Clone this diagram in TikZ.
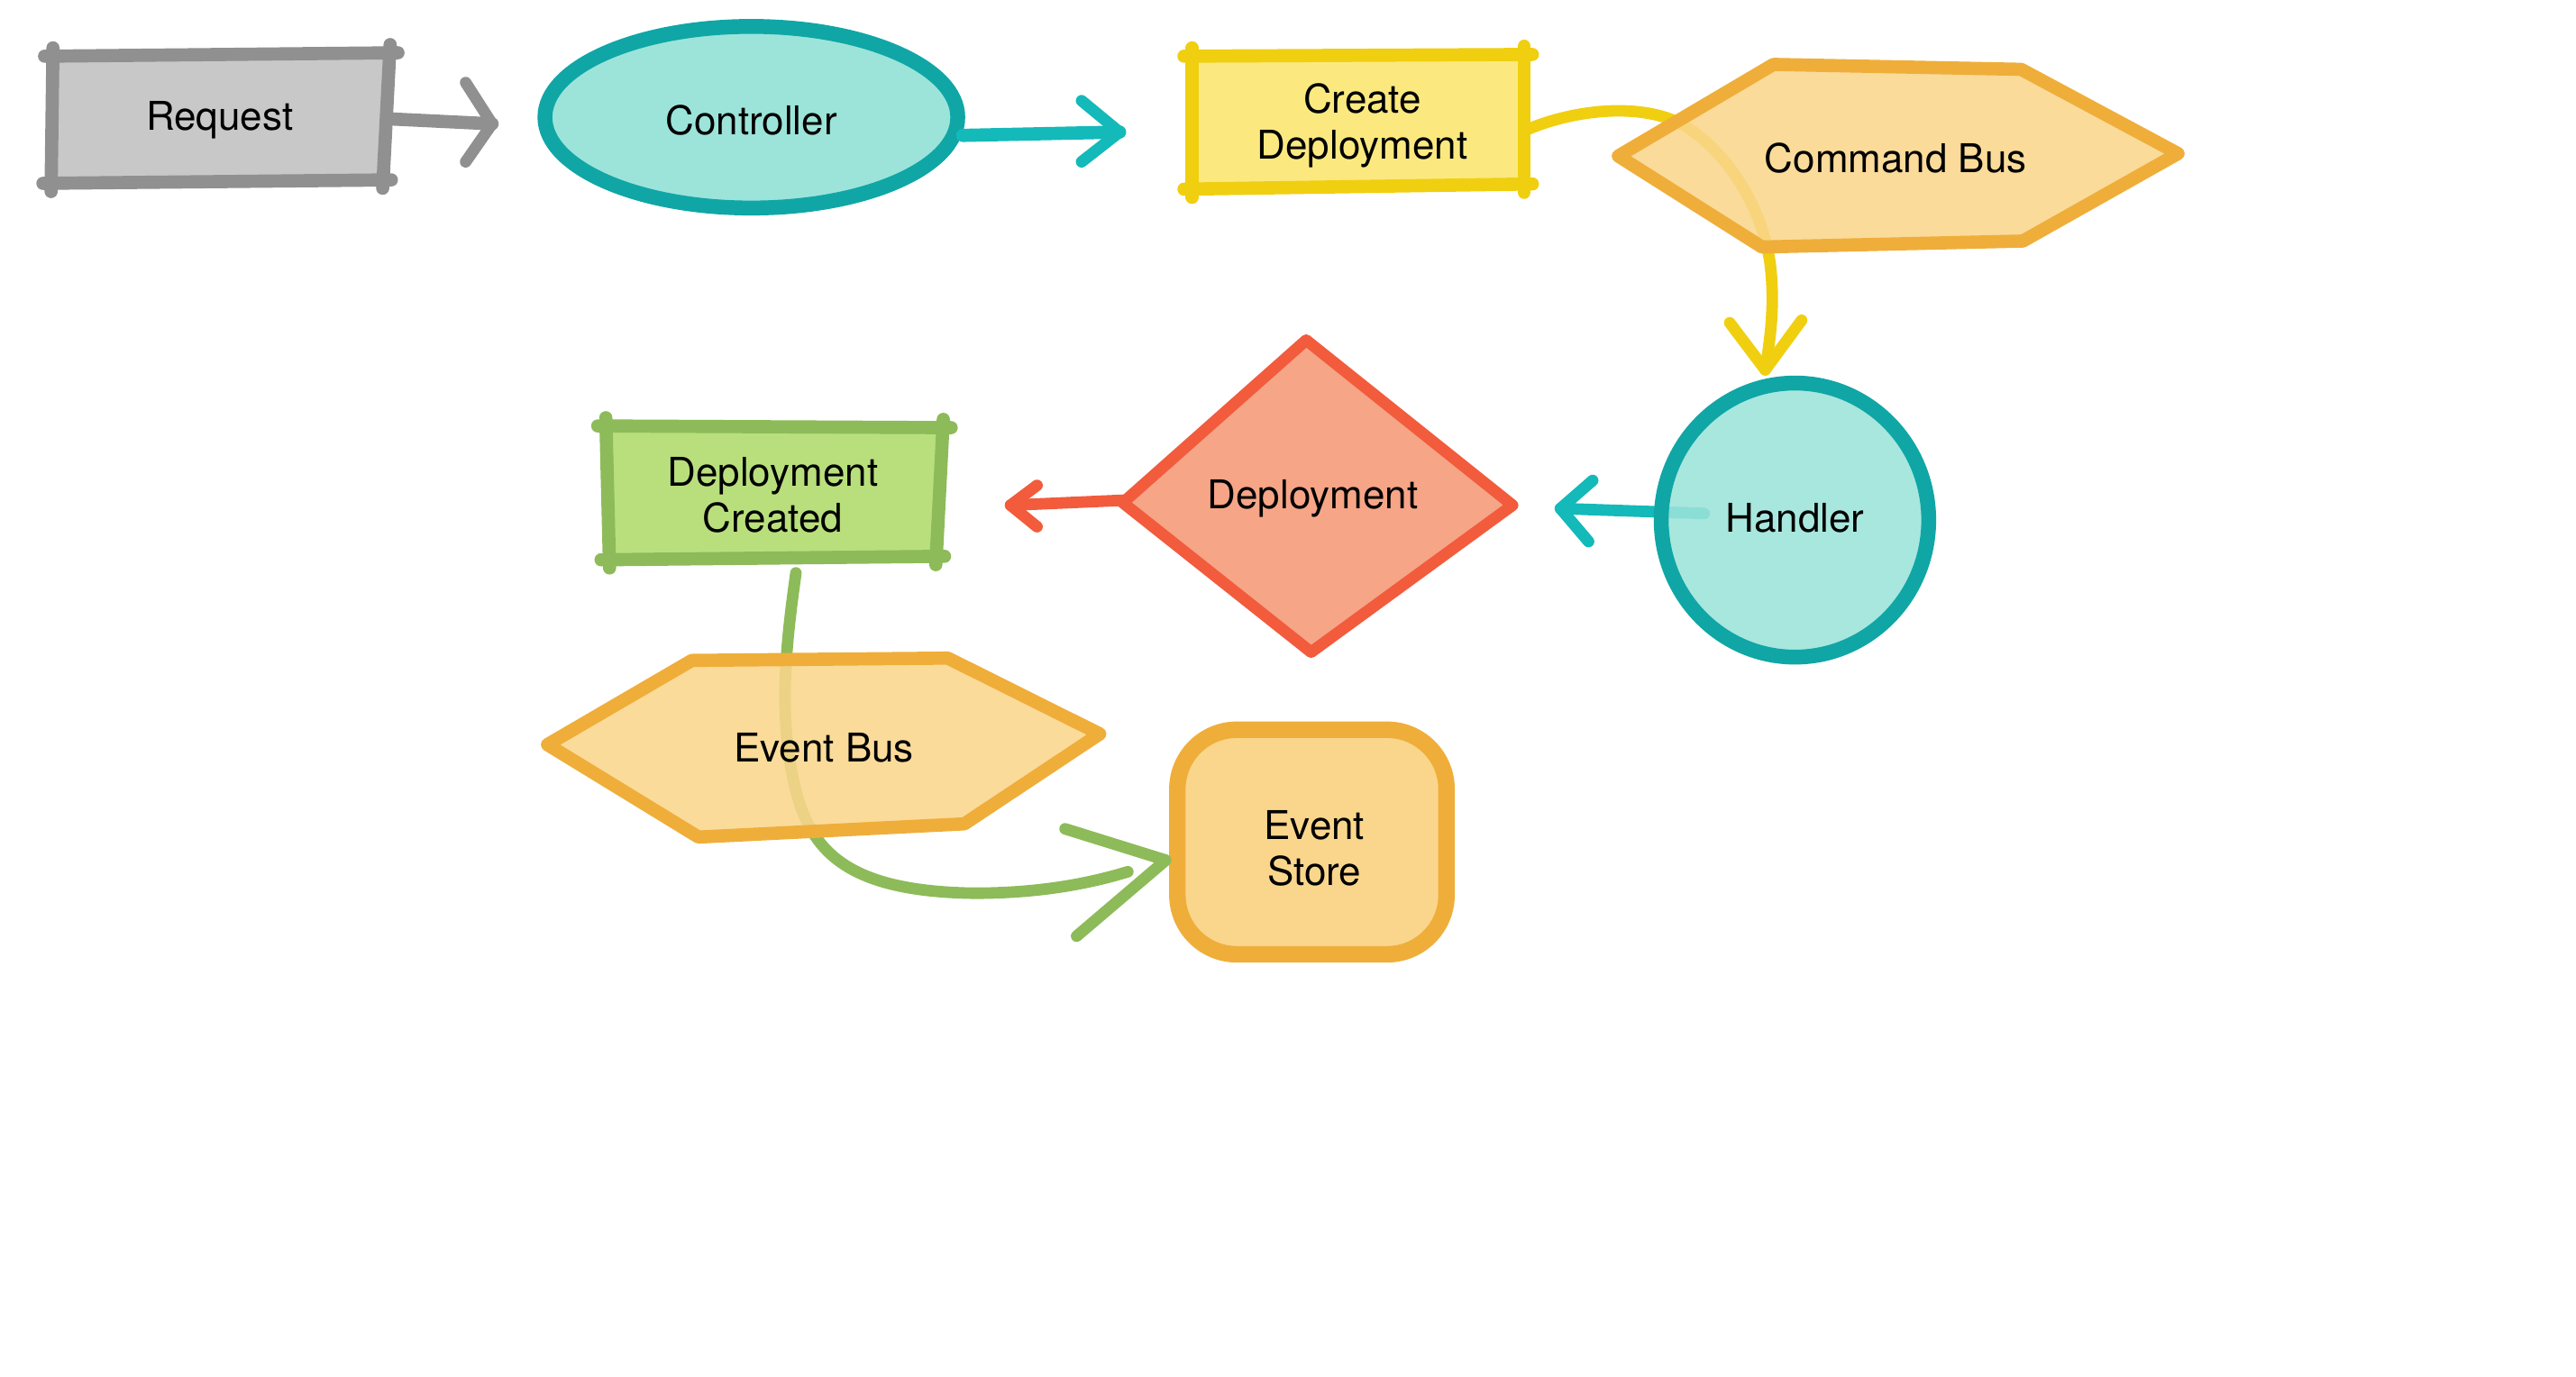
\documentclass[tikz,border=0pt]{standalone}
\usepackage{fontspec}
\setmainfont{TeX Gyre Heros}
\definecolor{grayS}{HTML}{909090}
\definecolor{grayF}{HTML}{C8C8C8}
\definecolor{tealS}{HTML}{10A6A6}
\definecolor{tealA}{HTML}{14B9B9}
\definecolor{tealF}{HTML}{9CE4DA}
\definecolor{yelS}{HTML}{F0CF10}
\definecolor{yelF}{HTML}{FBE97F}
\definecolor{oraS}{HTML}{EFAE3A}
\definecolor{oraF}{HTML}{FAD68C}
\definecolor{redS}{HTML}{F25B3C}
\definecolor{redF}{HTML}{F6A587}
\definecolor{grnS}{HTML}{8DBB59}
\definecolor{grnF}{HTML}{B9DF7D}
\begin{document}
\begin{tikzpicture}[x=1pt,y=-1pt,
  lbl/.style={font=\fontsize{24}{28}\selectfont, align=center, text=black, inner sep=0pt},
  side/.style={line width=8pt, line cap=round, shorten <=-5pt, shorten >=-5pt},
  conn/.style={line width=7pt, line cap=round, line join=round},
  chev/.style={line width=7pt, line cap=round, line join=round}]
\useasboundingbox (0,0) rectangle (1560,833.5);

% ---------- anchor coordinates ----------
\coordinate (req-e) at (236,72);
\coordinate (ctl-in) at (298,75);
\coordinate (ctl-e) at (583,82);
\coordinate (cd-in) at (678,80);
\coordinate (cd-e) at (926,78);
\coordinate (hd-in) at (1069,224);
\coordinate (hd-w) at (1032,311);
\coordinate (dep-in) at (945,308);
\coordinate (dep-w) at (680,303);
\coordinate (dc-in) at (612,306);
\coordinate (dc-s) at (482,347);
\coordinate (es-in) at (706,521);

% ---------- connectors that pass under shapes ----------
\draw[conn, yelS] (cd-e) .. controls (955,66) and (995,62) .. (1020,76)
  .. controls (1050,95) and (1068,130) .. (1072,160)
  .. controls (1075,185) and (1072,205) .. (hd-in);
\draw[conn, grnS] (dc-s) .. controls (476,390) and (470,440) .. (484,486)
  .. controls (495,520) and (520,540) .. (590,541)
  .. controls (630,541) and (660,535) .. (683,528);
\draw[conn, tealA] (hd-w) -- (dep-in);

% ---------- Request ----------
\fill[grayF] (32,34) -- (236,32) -- (232,109) -- (31,111) -- cycle;
\draw[side, grayS] (32,34) -- (236,32);
\draw[side, grayS] (236,32) -- (232,109);
\draw[side, grayS] (232,109) -- (31,111);
\draw[side, grayS] (31,111) -- (32,34);
\node[lbl] (req) at (133,73) {Request};

% ---------- Controller ----------
\draw[tealS, fill=tealF, line width=9pt] (455,71) ellipse [x radius=125pt, y radius=55pt];
\node[lbl] (ctl) at (455,73) {Controller};

% ---------- Create Deployment ----------
\fill[yelF] (722,34) -- (923,33) -- (923,111.5) -- (722,114.5) -- cycle;
\draw[side, yelS] (722,34) -- (923,33);
\draw[side, yelS] (923,33) -- (923,111.5);
\draw[side, yelS] (923,111.5) -- (722,114.5);
\draw[side, yelS] (722,114.5) -- (722,34);
\node[lbl] (cd) at (825,76) {Create\\Deployment};

% ---------- Command Bus ----------
\fill[oraF, fill opacity=0.88] (980,94.5) -- (1074,39) -- (1224,42) -- (1319,93) -- (1225,146) -- (1067,149.6) -- cycle;
\draw[oraS, line width=8pt, line join=round] (980,94.5) -- (1074,39) -- (1224,42) -- (1319,93) -- (1225,146) -- (1067,149.6) -- cycle;
\node[lbl] (cb) at (1148,96) {Command Bus};

% ---------- Handler ----------
\draw[tealS, line width=9pt, fill=tealF, fill opacity=0.88] (1087,315) ellipse [x radius=81pt, y radius=83pt];
\node[lbl] (hd) at (1087,314) {Handler};

% ---------- Deployment ----------
\draw[redS, fill=redF, line width=7pt, line join=round] (791,206) -- (916,306) -- (794,395) -- (680,304.5) -- cycle;
\node[lbl] (dep) at (795,302) {Deployment};

% ---------- Deployment Created ----------
\fill[grnF] (367,258) -- (571,259) -- (567,337) -- (369,339) -- cycle;
\draw[side, grnS] (367,258) -- (571,259);
\draw[side, grnS] (571,259) -- (567,337);
\draw[side, grnS] (567,337) -- (369,339);
\draw[side, grnS] (369,339) -- (367,258);
\node[lbl] (dc) at (468,300) {Deployment\\Created};

% ---------- Event Bus ----------
\fill[oraF, fill opacity=0.88] (331.5,451) -- (419,400) -- (574,398.6) -- (666,444.5) -- (584,499) -- (423,507) -- cycle;
\draw[oraS, line width=8pt, line join=round] (331.5,451) -- (419,400) -- (574,398.6) -- (666,444.5) -- (584,499) -- (423,507) -- cycle;
\node[lbl] (eb) at (499,453) {Event Bus};

% ---------- Event Store ----------
\draw[oraS, fill=oraF, line width=10pt, rounded corners=36pt] (713,442) rectangle (876,578);
\node[lbl] (es) at (796,514) {Event\\Store};

% ---------- connectors and arrow heads ----------
\draw[conn, grayS, line width=8pt] (req-e) -- (ctl-in);
\draw[chev, grayS] ([shift={(-16,-25)}]ctl-in) -- (ctl-in) -- ([shift={(-16,23)}]ctl-in);
\draw[conn, tealA, line width=8pt] (ctl-e) -- (cd-in);
\draw[chev, tealA] ([shift={(-23,-19)}]cd-in) -- (cd-in) -- ([shift={(-23,18)}]cd-in);
\draw[chev, yelS] ([shift={(-21.5,-28.5)}]hd-in) -- (hd-in) -- ([shift={(22,-30)}]hd-in);
\draw[chev, tealA] ([shift={(19.5,-17)}]dep-in) -- (dep-in) -- ([shift={(17,20)}]dep-in);
\draw[conn, redS] (dep-w) -- (dc-in);
\draw[chev, redS] ([shift={(16,-12)}]dc-in) -- (dc-in) -- ([shift={(16,13)}]dc-in);
\draw[chev, grnS] ([shift={(-61,-19)}]es-in) -- (es-in) -- ([shift={(-54,46)}]es-in);
\end{tikzpicture}
\end{document}
